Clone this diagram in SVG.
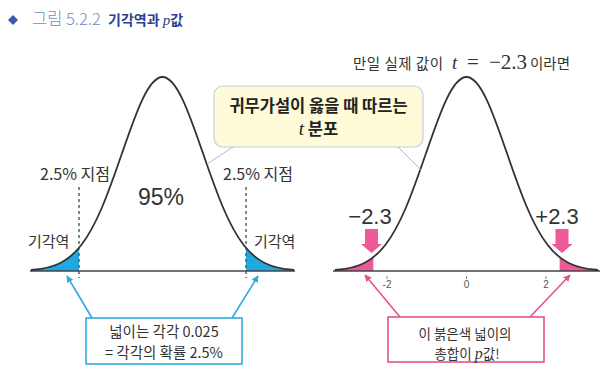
<svg xmlns="http://www.w3.org/2000/svg" xmlns:xlink="http://www.w3.org/1999/xlink" width="606" height="374" viewBox="0 0 606 374">
<style>
.kr{font-family:"Noto Sans CJK KR","Noto Sans",sans-serif;fill:#333}
.num{font-family:"Liberation Sans","Noto Sans",sans-serif;fill:#333}
.ser{font-family:"Liberation Serif",serif;font-style:italic}
.rom{font-family:"Liberation Serif",serif}
.curve{fill:none;stroke:#333;stroke-width:1.8}
.axis{stroke:#444;stroke-width:1.5}
.dash{stroke:#4b5a40;stroke-width:1.4;stroke-dasharray:3 3}
.blue{stroke:#2EAAE4;stroke-width:1.6;fill:none}
.pink{stroke:#E8508F;stroke-width:1.6;fill:none}
.thin{stroke:#A9B8E0;stroke-width:1}
</style>
<defs>
<path id="curve" d="M -131.6 270 L -121.5 268.85 C -114.75 267.78 -108 266.03 -101.25 262.48 C -94.5 258.93 -87.75 253.49 -81 244.74 C -74.25 235.99 -67.5 223.76 -60.75 208.01 C -54 192.26 -47.25 172.94 -40.5 153.33 C -33.75 133.72 -27 114.07 -20.25 99.8 C -13.5 85.53 -6.75 77 0 77 C 6.75 77 13.5 85.53 20.25 99.8 C 27 114.07 33.75 133.72 40.5 153.33 C 47.25 172.94 54 192.26 60.75 208.01 C 67.5 223.76 74.25 235.99 81 244.74 C 87.75 253.49 94.5 258.93 101.25 262.48 C 108 266.03 114.75 267.78 121.5 268.85 L 131.6 270"/>
<path id="btail" d="M -131.6 271 L -131.6 270 L -121.5 268.85 C -114.75 267.78 -108 266.03 -101.25 262.48 C -95.31 259.36 -89.37 254.78 -83.43 247.75 L -83.43 271 Z"/>
<path id="ptail" d="M -131.6 271 L -131.6 270 L -121.5 268.85 C -114.75 267.78 -108 266.03 -101.25 262.48 C -98.55 261.06 -95.85 259.34 -93.15 257.23 L -93.15 271 Z"/>
<marker id="ab" viewBox="0 0 10 10" refX="9" refY="5" markerWidth="7" markerHeight="7" orient="auto" markerUnits="userSpaceOnUse"><path d="M0,0 L10,5 L0,10 Z" fill="#2EAAE4"/></marker>
<marker id="ap" viewBox="0 0 10 10" refX="9" refY="5" markerWidth="7" markerHeight="7" orient="auto" markerUnits="userSpaceOnUse"><path d="M0,0 L10,5 L0,10 Z" fill="#E8508F"/></marker>
</defs>

<g id="title">
<path d="M13,15 L18,20 L13,25 L8,20 Z" fill="#3A5BAA"/>
<text x="32" y="25" font-size="16.5" font-weight="300" style="font-family:'Noto Sans CJK KR',sans-serif;fill:#6E8CC8">그림 5.2.2</text>
<text x="108" y="25" font-size="14" font-weight="700" style="font-family:'Noto Sans CJK KR',sans-serif;fill:#2A3F8F">기각역과 <tspan class="ser" font-weight="400" font-size="15">p</tspan>값</text>
</g>

<g id="left-dist">
<use href="#btail" transform="translate(162.5,0)" fill="#1EA9E4"/>
<use href="#btail" transform="translate(162.5,0) scale(-1,1)" fill="#1EA9E4"/>
<line class="axis" x1="30" y1="271" x2="295" y2="271"/>
<use href="#curve" class="curve" transform="translate(162.5,0)"/>
<line class="dash" x1="79" y1="187" x2="79" y2="278"/>
<line class="dash" x1="246" y1="187" x2="246" y2="278"/>
<text class="kr" x="40" y="180" font-size="16">2.5% 지점</text>
<text class="kr" x="223" y="180" font-size="16">2.5% 지점</text>
<text class="num" x="161" y="205" font-size="23" text-anchor="middle">95%</text>
<text class="kr" x="28" y="247" font-size="15">기각역</text>
<text class="kr" x="254" y="247" font-size="15">기각역</text>
</g>

<g id="right-dist">
<use href="#ptail" transform="translate(466.5,0)" fill="#EC5A98"/>
<use href="#ptail" transform="translate(466.5,0) scale(-1,1)" fill="#EC5A98"/>
<line class="axis" x1="333" y1="271" x2="600" y2="271"/>
<use href="#curve" class="curve" transform="translate(466.5,0)"/>
<g stroke="#888" stroke-width="1">
<line x1="387" y1="276" x2="387" y2="279"/>
<line x1="466.5" y1="276" x2="466.5" y2="279"/>
<line x1="546" y1="276" x2="546" y2="279"/>
</g>
<g class="num" font-size="10" text-anchor="middle" style="fill:#555">
<text x="387" y="288">-2</text>
<text x="466.5" y="288">0</text>
<text x="546" y="288">2</text>
</g>
<text class="num" x="370" y="224" font-size="22" text-anchor="middle">−2.3</text>
<text class="num" x="557" y="224" font-size="22" text-anchor="middle">+2.3</text>
<text class="kr" x="353" y="69" font-size="14.5" letter-spacing="0.5">만일 실제 값이 <tspan class="ser" x="452" font-size="19" letter-spacing="0">t</tspan><tspan class="rom" x="467" font-size="21" letter-spacing="0">=</tspan><tspan class="rom" x="489" font-size="21" letter-spacing="0">−2.3</tspan><tspan x="530" letter-spacing="0">이라면</tspan></text>
</g>

<g id="t-box">
<rect x="214" y="86" width="209" height="61" rx="9" fill="#FFFBD8" stroke="#C3CCDD" stroke-width="1.2"/>
<text class="kr" x="318.5" y="112" font-size="16.5" font-weight="700" text-anchor="middle" style="fill:#222">귀무가설이 옳을 때 따르는</text>
<text class="kr" x="318.5" y="135" font-size="16.5" font-weight="700" text-anchor="middle" style="fill:#222"><tspan class="ser" font-weight="400" font-size="19">t</tspan> 분포</text>
</g>

<g id="blue-box">
<rect x="86" y="318" width="156" height="46" fill="#fff" stroke="#2EAAE4" stroke-width="1.6"/>
<text class="kr" x="164" y="337" font-size="14.5" text-anchor="middle">넓이는 각각 0.025</text>
<text class="kr" x="164" y="358" font-size="14.5" text-anchor="middle">= 각각의 확률 2.5%</text>
</g>

<g id="pink-box">
<rect x="388" y="317" width="156" height="45" fill="#fff" stroke="#E8508F" stroke-width="1.6"/>
<text class="kr" x="465" y="339" font-size="13.5" text-anchor="middle">이 붉은색 넓이의</text>
<text class="kr" x="467" y="359" font-size="13.5" text-anchor="middle">총합이 <tspan class="ser" font-size="16">p</tspan>값!</text>
</g>

<g id="connectors">
<line class="thin" x1="233" y1="147" x2="207" y2="164"/>
<line class="thin" x1="398" y1="147" x2="421" y2="170"/>
<line class="blue" x1="92" y1="318" x2="67" y2="276" marker-end="url(#ab)"/>
<line class="blue" x1="232" y1="318" x2="258" y2="276" marker-end="url(#ab)"/>
<line class="pink" x1="400" y1="317" x2="365" y2="275" marker-end="url(#ap)"/>
<line class="pink" x1="530" y1="317" x2="570" y2="275" marker-end="url(#ap)"/>
<path d="M365,229 H378 V244 H382 L371.5,253 L361,244 H365 Z" fill="#EC5A98"/>
<path d="M555.5,229 H568.5 V244 H572.5 L562,253 L551.5,244 H555.5 Z" fill="#EC5A98"/>
</g>
</svg>
